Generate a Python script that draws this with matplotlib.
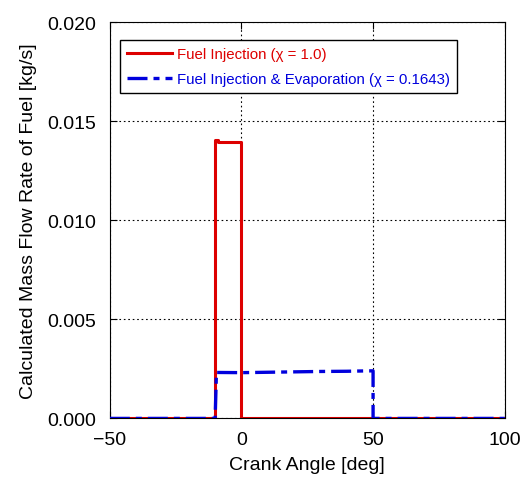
import matplotlib.pyplot as plt
import numpy as np

plt.rcParams['font.family'] = ['Liberation Sans', 'DejaVu Sans']

# Fuel injection (chi = 1.0) -- rectangular pulse
inj_angle = [-50, -10, -10, -9, -9, 0, 0, 100]
inj_rate = [0.0, 0.0, 0.01405, 0.01405, 0.01393, 0.01393, 0.0, 0.0]

# Fuel injection & evaporation (chi = 0.1643)
evap_angle = [-50, -10, -9.5, 0, 10, 20, 30, 40, 48, 50, 50, 100]
evap_rate = [0.0, 0.0, 0.00232, 0.00231, 0.00233, 0.00235, 0.00237, 0.00238, 0.0024, 0.0024, 0.0, 0.0]

fig, ax = plt.subplots(figsize=(5.23, 4.81), dpi=100)
fig.subplots_adjust(left=0.21, right=0.965, bottom=0.128, top=0.952)

ax.plot(evap_angle, evap_rate, color='#0000dd', lw=2.4, dashes=(6, 1.8, 1.8, 1.8),
        label='Fuel Injection & Evaporation (\u03c7 = 0.1643)', zorder=3)
ax.plot(inj_angle, inj_rate, color='#dd0000', lw=2.2,
        label='Fuel Injection (\u03c7 = 1.0)', zorder=2)

ax.set_xlim(-50, 100)
ax.set_ylim(0, 0.020)
ax.set_xticks([-50, 0, 50, 100])
ax.set_xticklabels(['\u221250', '0', '50', '100'])
ax.set_yticks([0, 0.005, 0.010, 0.015, 0.020])
ax.set_yticklabels(['0.000', '0.005', '0.010', '0.015', '0.020'])
ax.tick_params(direction='in', labelsize=14, length=5, top=True, right=True)
ax.tick_params(axis='x', pad=9)
ax.tick_params(axis='y', pad=10)
ax.grid(True, color='black', linestyle=(0, (1.5, 2.5)), linewidth=0.8)

ax.set_xlabel('Crank Angle [deg]', fontsize=14, labelpad=6)
ax.set_ylabel('Calculated Mass Flow Rate of Fuel [kg/s]', fontsize=14, labelpad=7)

h, l = ax.get_legend_handles_labels()
leg = ax.legend(h[::-1], l[::-1], loc='upper left', fontsize=10.8, fancybox=False,
                edgecolor='black', framealpha=1, handlelength=3.0,
                bbox_to_anchor=(0.025, 0.955), borderpad=0.5, labelspacing=0.7,
                handletextpad=0.3, borderaxespad=0)
leg.get_frame().set_linewidth(1.0)
for text, c in zip(leg.get_texts(), ['#dd0000', '#0000dd']):
    text.set_color(c)

fig.savefig('out.png', dpi=100)
